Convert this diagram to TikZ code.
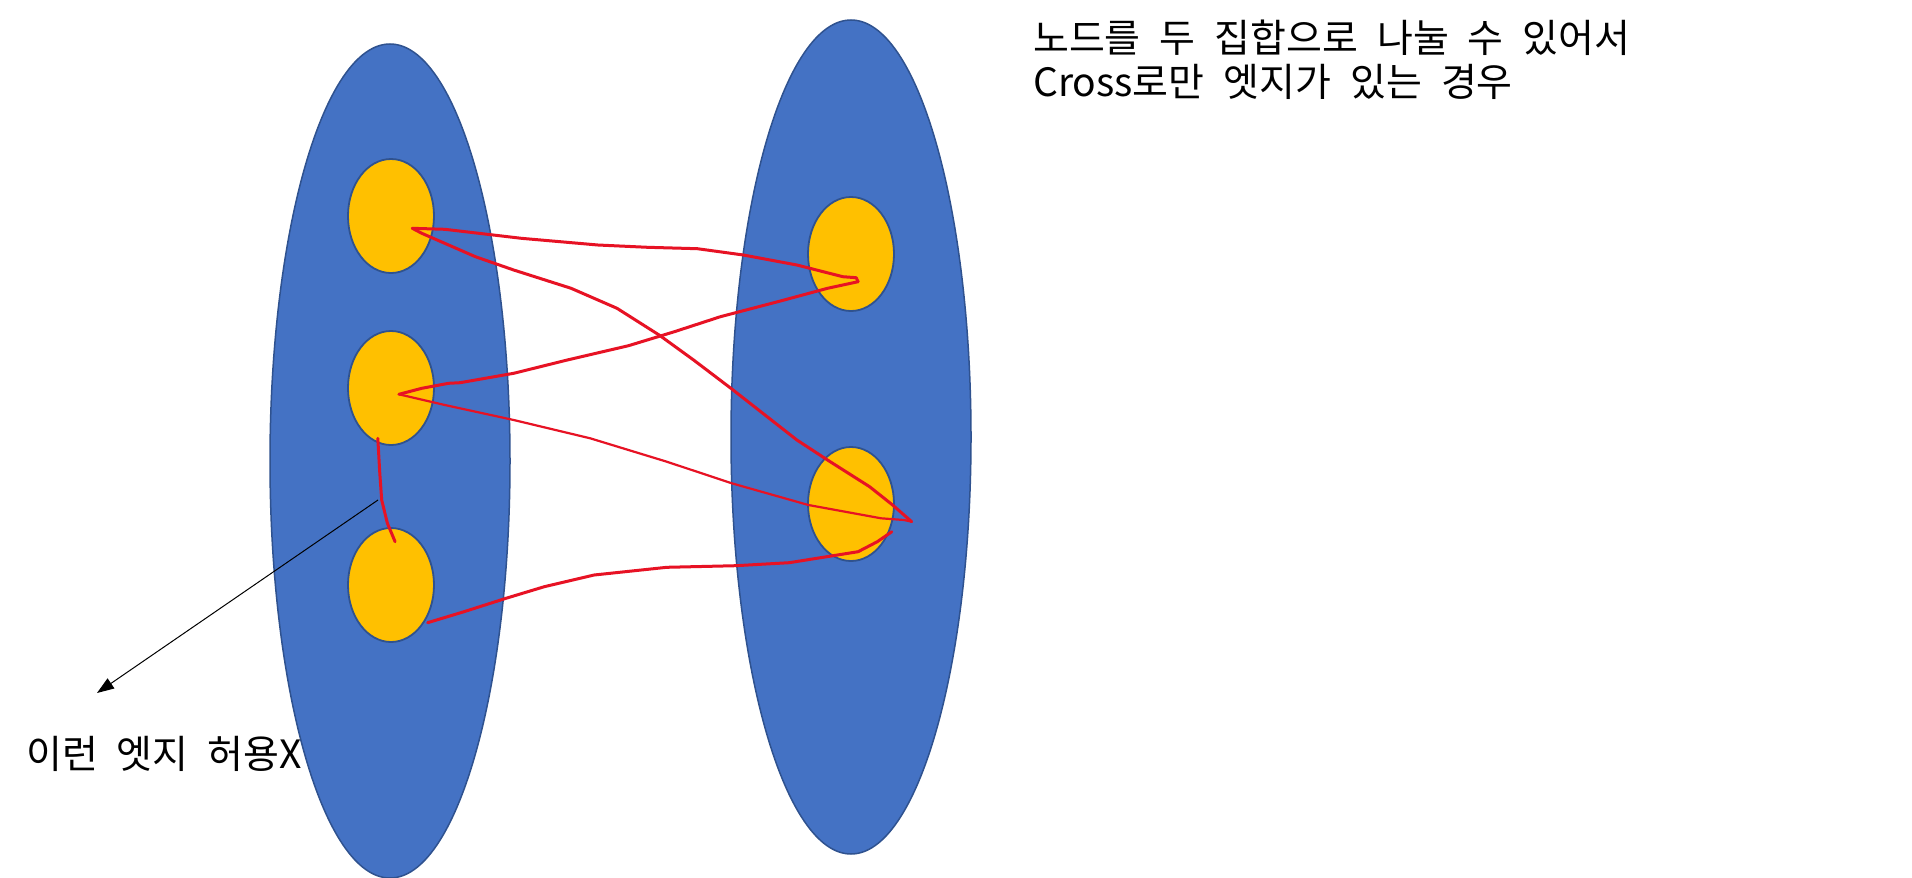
\documentclass[tikz,border=0pt]{standalone}
\usepackage{fontspec}
\setmainfont{Noto Sans CJK KR}
\usetikzlibrary{shapes.geometric,arrows.meta}
\definecolor{setblue}{HTML}{4472C4}
\definecolor{edgeblue}{HTML}{2F528F}
\definecolor{nodegold}{HTML}{FFC000}
\definecolor{inkred}{HTML}{E71224}
\newcommand\widewords{\spaceskip=19pt\relax}
\begin{document}
\begin{tikzpicture}[x=1pt,y=-1pt,
 setbox/.style={ellipse, draw=edgeblue, line width=1.5pt, fill=setblue, minimum width=240pt, minimum height=834pt, inner sep=0pt},
 vtx/.style={ellipse, draw=edgeblue, line width=1.8pt, fill=nodegold, minimum width=86pt, minimum height=114pt, inner sep=0pt},
 ink/.style={draw=inkred, line width=3pt, line cap=round, line join=round},
 thinink/.style={ink, line width=2.2pt},
 txt/.style={font=\fontsize{39pt}{44pt}\selectfont, execute at begin node=\widewords, inner sep=0pt, anchor=base west},
 pointer/.style={draw=black, line width=1pt, -{Triangle[length=17pt,width=12pt]}}]
\useasboundingbox (0,0) rectangle (1912,878);
\fill[white] (0,0) rectangle (1912,878);
% the two sets
\node[setbox] (L) at (390,461) {};
\node[setbox] (R) at (851,437) {};
% vertices
\node[vtx] (a1) at (391,216) {};
\node[vtx] (a2) at (391,388) {};
\node[vtx] (a3) at (391,585) {};
\node[vtx] (b1) at (851,254) {};
\node[vtx] (b2) at (851,504) {};
% stroke end points inside the vertices
\coordinate (pa1) at (412.3,228.3);
\coordinate (pb1) at (858.1,281.7);
\coordinate (pa2) at (398.9,394.3);
\coordinate (pb2) at (911.7,521.7);
\coordinate (pa2s) at (377.8,438.3);
\coordinate (pa3s) at (395.1,541.7);
\coordinate (pa3c) at (427.6,622.7);
\coordinate (pb2c) at (891.8,531.7);
% hand-drawn edges
\draw[ink] (pa1) -- (444.8,229.3) -- (521.3,238.3) -- (597.9,245) -- (647.6,247.3) -- (697.4,248.7) -- (743.3,255) -- (796.9,265) -- (842.8,276.7) -- (856.2,277.7) -- (pb1);
\draw[ink] (pb1) -- (827.5,288.3) -- (777.8,301.7) -- (720.4,316.7) -- (674.4,331.7) -- (628.5,345.7) -- (567.3,360) -- (513.7,373.3) -- (460.1,382.7) -- (448.6,383.3) -- (421.8,388.3) -- (pa2);
\draw[thinink] (pa2) -- (444.8,405) -- (513.7,420) -- (590.2,438.3) -- (666.8,461.7) -- (731.8,483.3) -- (808.4,505) -- (881.1,518.3) -- (904,520) -- (pb2);
\draw[ink] (pb2) -- (892.6,505) -- (869.6,486.7) -- (827.5,460) -- (796.9,440) -- (731.8,389) -- (693.6,360) -- (659.1,335) -- (617,308.3) -- (571.1,288.3) -- (513.7,270) -- (475.4,256.7) -- (421.8,233.3) -- (pa1);
\draw[ink] (pa2s) -- (379.8,473.3) -- (381.7,500) -- (387.4,523.3) -- (pa3s);
\draw[ink] (pa3c) -- (464,611.7) -- (506,598.3) -- (544.3,586.7) -- (594.1,575) -- (666.8,567.3) -- (735.7,565.7) -- (789.2,562.7) -- (858.1,551.7) -- (877.3,541.7) -- (pb2c);
% pointer to the forbidden edge
\coordinate (ps) at (378,500);
\coordinate (pt) at (97,693);
\draw[pointer] (ps) -- (pt);
% texts
\node[txt] (t1) at (1033,52) {노드를 두 집합으로 나눌 수 있어서};
\node[txt] (t2) at (1033,96) {Cross로만 엣지가 있는 경우};
\node[txt] (t3) at (26,768) {이런 엣지 허용X};
\end{tikzpicture}
\end{document}
